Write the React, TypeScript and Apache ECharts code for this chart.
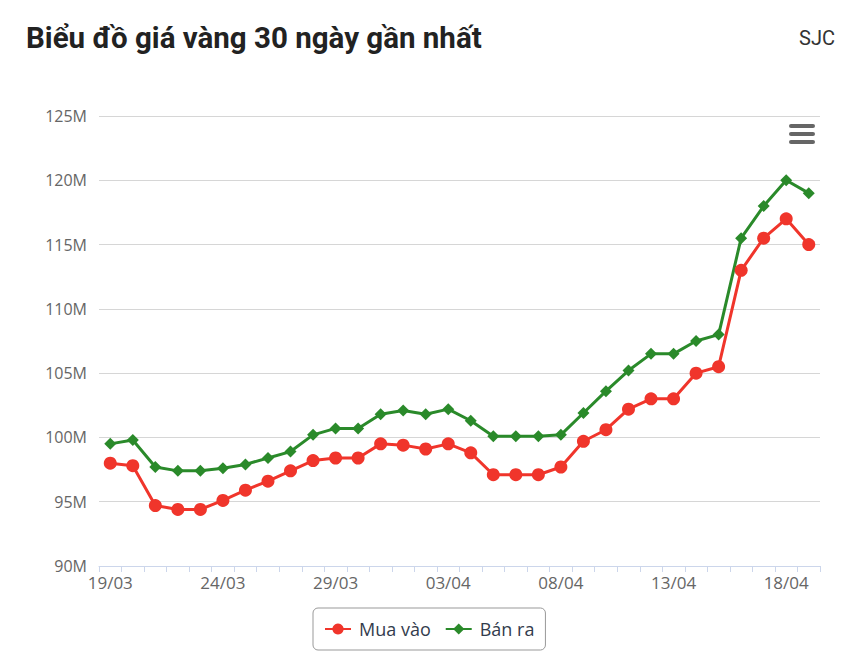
import React, { useEffect, useRef } from "react";
import * as echarts from "echarts";

const dates = [
  "19/03", "20/03", "21/03", "22/03", "23/03", "24/03", "25/03", "26/03", "27/03", "28/03",
  "29/03", "30/03", "31/03", "01/04", "02/04", "03/04", "04/04", "05/04", "06/04", "07/04",
  "08/04", "09/04", "10/04", "11/04", "12/04", "13/04", "14/04", "15/04", "16/04", "17/04",
  "18/04", "19/04",
];

const muaVao = [
  98.0, 97.8, 94.7, 94.4, 94.4, 95.1, 95.9, 96.6, 97.4, 98.2,
  98.4, 98.4, 99.5, 99.4, 99.1, 99.5, 98.8, 97.1, 97.1, 97.1,
  97.7, 99.7, 100.6, 102.2, 103.0, 103.0, 105.0, 105.5, 113.0, 115.5,
  117.0, 115.0,
];

const banRa = [
  99.5, 99.8, 97.7, 97.4, 97.4, 97.6, 97.9, 98.4, 98.9, 100.2,
  100.7, 100.7, 101.8, 102.1, 101.8, 102.2, 101.3, 100.1, 100.1, 100.1,
  100.2, 101.9, 103.6, 105.2, 106.5, 106.5, 107.5, 108.0, 115.5, 118.0,
  120.0, 119.0,
];

const yTicks = { min: 90, max: 125, interval: 5 };

export default function App() {
  const ref = useRef<HTMLDivElement>(null);

  useEffect(() => {
    document.body.style.margin = "0";
    if (!ref.current) return;
    const chart = echarts.init(ref.current, undefined, { renderer: "svg" });
    const axisFont = "'Open Sans', sans-serif";
    chart.setOption({
      animation: false,
      backgroundColor: "#ffffff",
      title: [
        {
          text: "Biểu đồ giá vàng 30 ngày gần nhất",
          left: 26,
          top: 23,
          padding: 0,
          textStyle: {
            fontFamily: "Roboto, sans-serif",
            fontWeight: "bold",
            fontSize: 29.5,
            color: "#222222",
          },
        },
        {
          text: "SJC",
          right: 7,
          top: 28,
          padding: 0,
          textStyle: {
            fontFamily: "Roboto, sans-serif",
            fontWeight: "normal",
            fontSize: 20,
            color: "#333333",
          },
        },
      ],
      grid: { left: 99, right: 22, top: 116, bottom: 101, containLabel: false },
      legend: {
        top: 608,
        left: 313,
        padding: [12, 11],
        itemGap: 14,
        itemWidth: 26,
        itemHeight: 14,
        borderColor: "#999999",
        borderWidth: 1,
        borderRadius: 5,
        textStyle: {
          fontFamily: axisFont,
          fontSize: 18,
          color: "#333c4d",
          padding: [0, 0, 0, 3],
        },
        data: ["Mua vào", "Bán ra"],
      },
      xAxis: {
        type: "category",
        data: dates,
        boundaryGap: true,
        axisLine: { show: true, lineStyle: { color: "#ccd6eb", width: 1 } },
        axisTick: { show: true, interval: 0, length: 6, lineStyle: { color: "#ccd6eb" } },
        axisLabel: {
          interval: 4,
          margin: 8,
          fontFamily: axisFont,
          fontSize: 17,
          color: "#666666",
        },
        splitLine: { show: false },
      },
      yAxis: {
        type: "value",
        min: yTicks.min,
        max: yTicks.max,
        interval: yTicks.interval,
        axisLine: { show: false },
        axisTick: { show: false },
        axisLabel: {
          formatter: "{value}M",
          margin: 12,
          fontFamily: axisFont,
          fontSize: 16,
          color: "#666666",
        },
        splitLine: { show: true, lineStyle: { color: "#d6d6d6", width: 1 } },
      },
      series: [
        {
          name: "Mua vào",
          type: "line",
          data: muaVao,
          symbol: "circle",
          symbolSize: 13,
          showAllSymbol: true,
          lineStyle: { color: "#f0352b", width: 3 },
          itemStyle: { color: "#f0352b" },
        },
        {
          name: "Bán ra",
          type: "line",
          data: banRa,
          symbol: "diamond",
          symbolSize: 12,
          showAllSymbol: true,
          lineStyle: { color: "#2a8a2a", width: 3 },
          itemStyle: { color: "#2a8a2a" },
        },
      ],
      graphic: [
        { type: "rect", shape: { x: 789, y: 124, width: 26, height: 4, r: 2 }, style: { fill: "#666666" } },
        { type: "rect", shape: { x: 789, y: 132, width: 26, height: 4, r: 2 }, style: { fill: "#666666" } },
        { type: "rect", shape: { x: 789, y: 140, width: 26, height: 4, r: 2 }, style: { fill: "#666666" } },
      ],
    });
    return () => chart.dispose();
  }, []);

  return <div ref={ref} style={{ width: 842, height: 667 }} />;
}
